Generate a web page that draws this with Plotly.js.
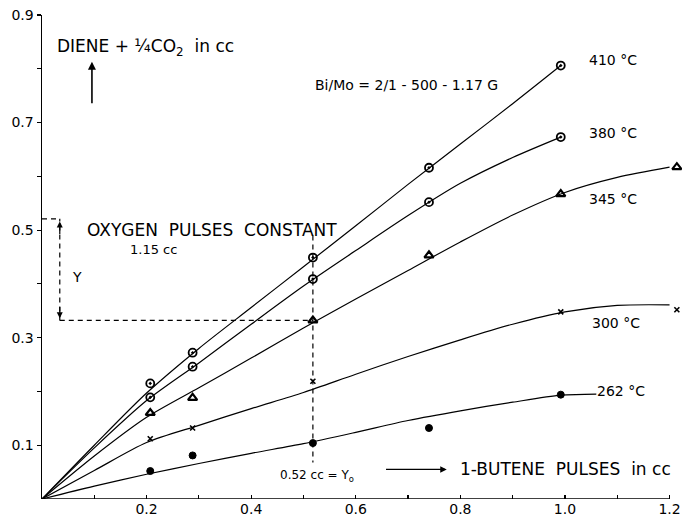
<!DOCTYPE html>
<html>
<head>
<meta charset="utf-8">
<script src="https://cdn.plot.ly/plotly-3.0.1.min.js"></script>
<style>
  html, body { margin: 0; padding: 0; background: #fff; }
  #chart { width: 682px; height: 519px; }
</style>
</head>
<body>
<div id="chart"></div>
<script>
// Measured points: 1-butene pulse size (cc) vs diene + 1/4 CO2 (cc)
const xPts = [0.207, 0.288, 0.518, 0.740, 0.992, 1.214];
const y410 = [0.215, 0.272, 0.449, 0.616, 0.806];
const y380 = [0.189, 0.246, 0.409, 0.552, 0.673];
const y345 = [0.160, 0.188, 0.332, 0.453, 0.567, 0.617];
const y300 = [0.112, 0.132, 0.219, null, 0.348, 0.352];
const y262 = [0.052, 0.081, 0.104, 0.132, 0.194];

// Hand-drawn smooth curves through the measurements
const xCurve = [0, 0.1, 0.2, 0.3, 0.4, 0.5, 0.6, 0.7, 0.8, 0.9, 0.992];
const c410 = [0, 0.100, 0.197, 0.280, 0.356, 0.432, 0.508, 0.585, 0.660, 0.735, 0.806];
const c380 = [0, 0.095, 0.183, 0.253, 0.325, 0.396, 0.462, 0.527, 0.587, 0.635, 0.673];
const xCurve345 = [0, 0.1, 0.2, 0.3, 0.4, 0.5, 0.6, 0.7, 0.8, 0.9, 1.0, 1.1, 1.2];
const c345 = [0, 0.080, 0.152, 0.207, 0.262, 0.318, 0.372, 0.425, 0.478, 0.528, 0.570, 0.598, 0.617];
const xCurve300 = [0, 0.1, 0.2, 0.3, 0.4, 0.5, 0.6, 0.7, 0.8, 0.9, 1.0, 1.1, 1.2];
const c300 = [0, 0.053, 0.105, 0.137, 0.168, 0.198, 0.232, 0.265, 0.296, 0.325, 0.348, 0.360, 0.361];
const xCurve262 = [0, 0.1, 0.2, 0.3, 0.4, 0.5, 0.6, 0.7, 0.8, 0.9, 0.992, 1.06];
const c262 = [0, 0.024, 0.046, 0.066, 0.085, 0.103, 0.124, 0.146, 0.164, 0.180, 0.193, 0.195];

// Axis ticks and labels
const xTickVals = [0.1, 0.2, 0.3, 0.4, 0.5, 0.6, 0.7, 0.8, 0.9, 1.0, 1.1, 1.2];
const xTickText = ['', '0.2', '', '0.4', '', '0.6', '', '0.8', '', '1.0', '', '1.2'];
const yTickVals = [0.1, 0.2, 0.3, 0.4, 0.5, 0.6, 0.7, 0.8, 0.9];
const yTickText = ['0.1', '', '0.3', '', '0.5', '', '0.7', '', '0.9'];

const FONT = '"DejaVu Sans", "Liberation Sans", sans-serif';
const INK = '#000';

function curve(x, y) {
  return { x: x, y: y, mode: 'lines', type: 'scatter', hoverinfo: 'skip',
           line: { color: INK, width: 1.2, shape: 'spline', smoothing: 0.8 } };
}
function pts(y, sym, size, lw) {
  return { x: xPts.slice(0, y.length), y: y, mode: 'markers', type: 'scatter', cliponaxis: false,
           marker: { symbol: sym, size: size, color: INK, line: { color: INK, width: lw } } };
}

const data = [
  curve(xCurve, c410), curve(xCurve, c380), curve(xCurve345, c345),
  curve(xCurve300, c300), curve(xCurve262, c262),
  pts(y410, 'circle-open-dot', 8, 1.8),
  pts(y380, 'circle-open-dot', 8, 1.8),
  pts(y345, 'triangle-up-open', 8, 2.2),
  pts(y300, 'x-thin-open', 5, 1.6),
  pts(y262, 'circle', 7, 1)
];

function label(text, x, y, size, anchor) {
  return { text: text, x: x, y: y, xref: 'x', yref: 'y', showarrow: false,
           xanchor: anchor || 'left', yanchor: 'middle',
           font: { family: FONT, size: size, color: INK } };
}
function arrow(x, y, ax, ay, w) {
  return { text: '', x: x, y: y, ax: ax, ay: ay, xref: 'x', yref: 'y', axref: 'x', ayref: 'y',
           showarrow: true, arrowhead: 2, arrowsize: 1, arrowwidth: w || 1.3, arrowcolor: INK };
}
function dashed(x0, y0, x1, y1) {
  return { type: 'line', xref: 'x', yref: 'y', x0: x0, y0: y0, x1: x1, y1: y1,
           line: { color: INK, width: 1.2, dash: '5px,4px' } };
}

const layout = {
  width: 682, height: 519,
  margin: { l: 42, r: 2, t: 15, b: 20 },
  paper_bgcolor: '#fff', plot_bgcolor: '#fff',
  showlegend: false,
  font: { family: FONT, color: INK },
  xaxis: {
    range: [0, 1.22], showgrid: false, zeroline: false, showline: false,
    tickmode: 'array', tickvals: xTickVals, ticktext: xTickText,
    ticks: 'inside', ticklen: 4, tickwidth: 1.2, tickcolor: INK,
    tickfont: { family: FONT, size: 14, color: INK }
  },
  yaxis: {
    range: [0, 0.9], showgrid: false, zeroline: false,
    showline: true, linewidth: 1.5, linecolor: INK,
    tickmode: 'array', tickvals: yTickVals, ticktext: yTickText,
    ticks: 'outside', ticklen: 4, tickwidth: 1.2, tickcolor: INK,
    tickfont: { family: FONT, size: 14, color: INK }
  },
  shapes: [
    { type: 'line', xref: 'x', yref: 'y', x0: 0, y0: 0, x1: 1.2, y1: 0, line: { color: INK, width: 1.5 } },
    dashed(0.518, 0.49, 0.518, 0.068),
    dashed(0.034, 0.332, 0.518, 0.332),
    dashed(0.034, 0.332, 0.034, 0.521),
    dashed(0.0, 0.521, 0.034, 0.521)
  ],
  annotations: [
    label('DIENE + ¼CO<sub>2</sub>  in cc', 0.025, 0.839, 17),
    arrow(0.0955, 0.813, 0.0955, 0.733, 1.6),
    label('Bi/Mo = 2/1 - 500 - 1.17 G', 0.518, 0.769, 14),
    label('410 °C', 1.043, 0.817, 14),
    label('380 °C', 1.043, 0.681, 14),
    label('345 °C', 1.043, 0.557, 14),
    label('300 °C', 1.047, 0.328, 14),
    label('262 °C', 1.057, 0.200, 14),
    label('OXYGEN  PULSES  CONSTANT', 0.082, 0.501, 17),
    label('1.15 cc', 0.164, 0.464, 13),
    label('Y', 0.054, 0.412, 14),
    arrow(0.034, 0.516, 0.034, 0.49, 1.2),
    arrow(0.034, 0.336, 0.034, 0.36, 1.2),
    label('0.52 cc = Y<sub>o</sub>', 0.451, 0.042, 12),
    arrow(0.774, 0.055, 0.655, 0.055, 1.3),
    label('1-BUTENE  PULSES  in cc', 0.795, 0.055, 17)
  ]
};

Plotly.newPlot('chart', data, layout, { staticPlot: true, displayModeBar: false });
</script>
</body>
</html>
